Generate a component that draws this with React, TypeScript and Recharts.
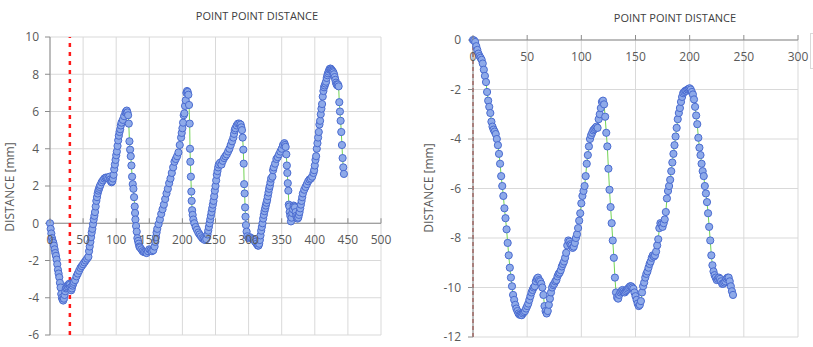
import React from "react";
import { ScatterChart, Scatter, XAxis, YAxis, CartesianGrid, ReferenceLine } from "recharts";

// ---------- DATA ----------
const TITLE = "POINT POINT DISTANCE";
const Y_LABEL = "DISTANCE [mm]";

const leftXTicks = [0, 50, 100, 150, 200, 250, 300, 350, 400, 450, 500];
const leftYTicks = [-6, -4, -2, 0, 2, 4, 6, 8, 10];
const rightXTicks = [0, 50, 100, 150, 200, 250, 300];
const rightYTicks = [-12, -10, -8, -6, -4, -2, 0];

const leftMarkerX = 30;
const rightMarkerX = 0;

// left series: [x, distance]
const leftPoints: [number, number][] = [
  [0,0],[1,-0.3],[2,-0.55],[3,-0.8],[4,-0.95],[5,-1.05],[6,-1.2],[7,-1.4],[8,-1.6],[9,-1.75],[10,-1.95],
  [11,-2.2],[12,-2.5],[13,-2.7],[14,-2.9],[15,-3.2],[16,-3.45],[17,-3.8],[18,-4.0],[19,-4.1],[20,-4.15],
  [21,-4.05],[22,-3.85],[23,-3.65],[24,-3.5],[25,-3.45],[26,-3.35],[27,-3.4],[28,-3.3],[29,-3.25],[30,-3.3],
  [31,-3.45],[32,-3.6],[33,-3.5],[34,-3.35],[35,-3.25],[36,-3.15],[38,-3.05],[40,-2.85],[42,-2.7],[44,-2.55],
  [46,-2.4],[48,-2.3],[50,-2.2],[52,-2.1],[54,-2.0],[56,-1.9],[58,-1.8],[59,-1.5],[60,-1.25],[61,-1.0],
  [62,-0.75],[63,-0.5],[64,-0.3],[65,-0.05],[66,0.2],[67,0.4],[68,0.6],[69,0.9],[70,1.2],[71,1.4],
  [72,1.6],[73,1.75],[74,1.85],[75,1.95],[76,2.05],[78,2.2],[80,2.3],[82,2.4],[84,2.45],[86,2.45],
  [88,2.4],[90,2.5],[91,2.35],[92,2.25],[93,2.2],[94,2.25],[95,2.4],[96,2.6],[97,2.9],[98,3.15],
  [99,3.4],[100,3.65],[101,3.85],[102,4.15],[103,4.45],[104,4.7],[105,4.9],[106,5.05],[107,5.25],[108,5.4],
  [110,5.55],[112,5.75],[114,5.95],[115,6.0],[116,6.05],[117,5.95],[118,5.8],[119,5.35],[120,4.4],[121,3.95],
  [122,3.6],[123,3.1],[124,2.5],[125,2.1],[126,1.85],[127,1.4],[128,0.9],[128.5,0.55],[129,0.2],[130,-0.15],
  [131,-0.45],[132,-0.8],[133,-0.95],[134,-1.1],[135,-1.25],[136,-1.3],[138,-1.4],[140,-1.5],[142,-1.55],[144,-1.55],
  [146,-1.6],[148,-1.5],[150,-1.4],[152,-1.45],[154,-1.5],[156,-1.45],[158,-1.25],[159,-1.0],[160,-0.75],[161,-0.5],
  [162,-0.3],[164,-0.05],[166,0.2],[168,0.5],[170,0.75],[172,1.0],[174,1.3],[176,1.6],[178,1.85],[180,2.15],
  [182,2.4],[184,2.7],[186,3.0],[188,3.3],[190,3.45],[192,3.6],[194,3.8],[196,4.2],[198,4.6],[199,4.85],
  [200,5.1],[201,5.4],[202,5.8],[203,5.9],[204,6.3],[205,6.6],[206,7.0],[207,7.1],[208,7.05],[209,6.9],
  [210,6.35],[211,5.35],[211.5,4.0],[212,3.3],[212.8,2.5],[213.5,1.7],[214,1.2],[214.7,0.7],[215.5,0.45],[216.5,0.2],
  [218,0],[220,-0.2],[222,-0.35],[224,-0.5],[226,-0.6],[228,-0.7],[230,-0.8],[232,-0.85],[234,-0.9],[236,-0.85],
  [238,-0.6],[239,-0.4],[240,-0.2],[241,0],[242,0.2],[243,0.4],[244,0.6],[245,0.8],[246,1.0],[247,1.2],
  [248,1.45],[249,1.75],[250,2.0],[251,2.3],[252,2.6],[253,2.8],[254,3.0],[255,3.15],[257,3.25],[259,3.15],
  [261,3.35],[263,3.5],[265,3.6],[267,3.7],[269,3.85],[271,4.0],[273,4.2],[275,4.4],[277,4.6],[278,4.8],
  [279,5.0],[280,5.1],[282,5.25],[284,5.35],[286,5.35],[288,5.3],[289,5.15],[290,5.0],[291,4.6],[292,3.95],
  [292.6,3.2],[293.3,2.1],[294,1.6],[294.7,0.85],[295.3,0.35],[296,-0.1],[297,-0.45],[298,-0.7],[300,-0.8],[302,-0.75],
  [304,-0.8],[306,-0.85],[308,-0.9],[310,-1.0],[312,-1.1],[314,-1.2],[315,-1.2],[316,-1.1],[317,-0.9],[318,-0.65],
  [319,-0.4],[320,-0.2],[321,0.0],[322,0.25],[323,0.45],[324,0.65],[325,0.8],[326,0.95],[327,1.1],[328,1.25],
  [329,1.45],[330,1.65],[331,1.85],[332,2.0],[333,2.2],[334,2.4],[336,2.5],[337,2.85],[338,3.0],[340,3.2],
  [342,3.45],[344,3.55],[346,3.7],[348,3.85],[350,4.0],[352,4.2],[354,4.3],[355,4.2],[356,4.1],[357,3.7],
  [357.8,3.1],[358.5,2.7],[359.2,2.15],[360,1.75],[360.7,1.0],[361.5,0.9],[362,0.6],[363,0.4],[364,0.1],[365,0.3],
  [366,0.55],[367,0.75],[368,0.95],[369,0.9],[370,0.85],[371,0.6],[372,0.4],[373,0.3],[374,0.25],[375,0.3],
  [376,0.45],[377,0.6],[378,0.8],[379,1.0],[380,1.2],[381,1.4],[382,1.6],[384,1.8],[386,1.95],[388,2.1],
  [390,2.25],[392,2.35],[394,2.4],[396,2.5],[398,2.7],[399,2.85],[400,3.1],[401,3.4],[402,3.6],[403,4.0],
  [404,4.3],[405,4.6],[406,4.9],[407,5.3],[408,5.5],[409,5.85],[410,6.15],[411,6.4],[412,6.8],[413,7.1],
  [414,7.3],[415,7.4],[416,7.5],[417,7.6],[418,7.8],[419,7.95],[420,8.05],[421,8.15],[422,8.25],[423,8.3],
  [424,8.3],[425,8.25],[426,8.2],[427,8.15],[428,8.1],[429,8.0],[430,7.85],[431,7.7],[432,7.55],[433,7.45],
  [434,7.4],[435,7.45],[436,7.35],[437,6.5],[438,6.0],[439,5.5],[440,4.9],[441,4.2],[442,3.5],[443,3.0],[444,2.65],
];

// right series: distance at x = 0, 1, 2, ...
const rightValues: number[] = [
  0,-0.02,-0.08,-0.25,-0.4,-0.55,-0.65,-0.72,-0.8,-0.95,
  -1.2,-1.45,-1.7,-2.1,-2.45,-2.7,-2.95,-3.3,-3.5,-3.62,
  -3.7,-3.8,-4.0,-4.25,-4.6,-5.0,-5.5,-5.9,-6.3,-6.8,
  -7.2,-7.65,-8.2,-8.7,-9.2,-9.6,-9.95,-10.3,-10.5,-10.7,
  -10.85,-10.95,-11.05,-11.1,-11.1,-11.12,-11.05,-11.0,-10.95,-10.85,
  -10.75,-10.65,-10.5,-10.35,-10.2,-10.1,-10.0,-9.95,-9.75,-9.65,
  -9.6,-9.7,-9.75,-9.85,-10.0,-10.3,-10.75,-10.95,-11.05,-10.95,
  -10.7,-10.45,-10.2,-10.0,-9.9,-9.85,-9.75,-9.7,-9.55,-9.45,
  -9.4,-9.3,-9.15,-9.05,-8.95,-8.8,-8.6,-8.3,-8.1,-8.15,
  -8.25,-8.3,-8.4,-8.35,-8.2,-8.0,-7.85,-7.6,-7.3,-7.0,
  -6.6,-6.3,-6.1,-5.9,-5.5,-5.0,-4.65,-4.3,-4.0,-3.85,
  -3.75,-3.65,-3.6,-3.55,-3.5,-3.55,-3.2,-3.0,-2.75,-2.5,
  -2.45,-2.6,-3.1,-3.75,-4.3,-5.2,-6.05,-6.75,-7.4,-8.1,
  -8.8,-9.6,-10.2,-10.4,-10.45,-10.3,-10.2,-10.15,-10.1,-10.15,
  -10.2,-10.15,-10.1,-10.05,-10.0,-9.95,-9.95,-10.0,-10.05,-10.2,
  -10.35,-10.5,-10.65,-10.75,-10.7,-10.55,-10.2,-9.95,-9.8,-9.6,
  -9.45,-9.35,-9.2,-9.05,-8.95,-8.8,-8.7,-8.75,-8.7,-8.55,
  -8.3,-8.05,-7.6,-7.4,-7.45,-7.55,-7.4,-7.25,-6.95,-6.4,
  -6.1,-5.9,-5.65,-5.3,-4.95,-4.6,-4.25,-3.9,-3.55,-3.2,
  -2.95,-2.75,-2.5,-2.3,-2.15,-2.1,-2.05,-2.05,-2.0,-1.98,
  -1.95,-2.0,-2.1,-2.2,-2.4,-2.7,-3.05,-3.4,-3.95,-4.35,
  -4.65,-5.0,-5.3,-5.5,-5.9,-6.2,-6.55,-7.0,-7.55,-8.1,
  -8.7,-9.1,-9.35,-9.5,-9.6,-9.7,-9.65,-9.6,-9.65,-9.75,
  -9.85,-9.85,-9.8,-9.75,-9.65,-9.6,-9.6,-9.75,-9.95,-10.15,
  -10.3,
];

// ---------- STYLE ----------
const FONT = "'Open Sans', 'Noto Sans', sans-serif";
const TEXT = "#595959";
const GRID = "#d9d9d9";
const AXIS = "#8c8c8c";
const FILL = "#8eaae9";
const STROKE = "#4a6bd0";
const LINE = "#72d455";

const leftData = leftPoints.map(([x, y]) => ({ x, y }));
const rightData = rightValues.map((y, i) => ({ x: i, y }));

const Dot = (props: any) => {
  const { cx, cy } = props;
  if (cx == null || cy == null) return null;
  return <circle cx={cx} cy={cy} r={3.6} fill={FILL} stroke={STROKE} strokeWidth={1} />;
};

// x tick drawn at the y=0 axis line
const makeXTick = (zeroY: number) => (props: any) => {
  const { x, payload } = props;
  return (
    <g>
      <line x1={x} x2={x} y1={zeroY - 5} y2={zeroY} stroke={AXIS} strokeWidth={1} />
      <text x={x} y={zeroY + 18} textAnchor="middle" dominantBaseline="middle" fill={TEXT} fontSize={12} fontFamily={FONT}>
        {payload.value}
      </text>
    </g>
  );
};

// Left plot: left 50, top 37, width 331, height 298
const L_TOP = 37, L_H = 298;
const leftZeroY = L_TOP + L_H * (10 / 16);
// Right plot: left 473, top 40, width 325, height 297
const R_TOP = 40;

const textStyle: React.CSSProperties = { position: "absolute", color: "#404040", fontFamily: FONT, whiteSpace: "nowrap" };

export default function App() {
  return (
    <div style={{ position: "absolute", left: 0, top: 0, width: 813, height: 347, background: "#fff", overflow: "hidden", fontFamily: FONT }}>
      {/* LEFT CHART */}
      <div style={{ position: "absolute", left: 0, top: 0 }}>
        <ScatterChart width={400} height={347} margin={{ top: L_TOP, right: 19, bottom: 11, left: 10 }}>
          <CartesianGrid stroke={GRID} strokeWidth={1} />
          <XAxis type="number" dataKey="x" domain={[0, 500]} ticks={leftXTicks} height={1}
            axisLine={false} tickLine={false} tick={makeXTick(leftZeroY)} interval={0} />
          <YAxis type="number" dataKey="y" domain={[-6, 10]} ticks={leftYTicks} width={40} interval={0}
            axisLine={{ stroke: AXIS }} tickLine={{ stroke: AXIS }} tickSize={5} tickMargin={6}
            tick={{ fill: TEXT, fontSize: 12, fontFamily: FONT }} />
          <ReferenceLine y={0} stroke={AXIS} strokeWidth={1} />
          <Scatter data={leftData} isAnimationActive={false} line={{ stroke: LINE, strokeWidth: 1 }} lineType="joint" shape={Dot} />
          <ReferenceLine x={leftMarkerX} stroke="#ff1a1a" strokeWidth={2.5} strokeDasharray="4 5" />
        </ScatterChart>
      </div>
      <div style={{ ...textStyle, left: 257, top: 15, transform: "translate(-50%,-50%)", fontSize: 11 }}>{TITLE}</div>
      <div style={{ ...textStyle, left: 9, top: 187, transform: "translate(-50%,-50%) rotate(-90deg)", fontSize: 12, color: TEXT }}>{Y_LABEL}</div>

      {/* RIGHT CHART */}
      <div style={{ position: "absolute", left: 410, top: 0 }}>
        <ScatterChart width={403} height={347} margin={{ top: R_TOP, right: 15, bottom: 9, left: 23 }}>
          <CartesianGrid stroke={GRID} strokeWidth={1} />
          <XAxis type="number" dataKey="x" domain={[0, 300]} ticks={rightXTicks} height={1}
            axisLine={false} tickLine={false} tick={makeXTick(R_TOP)} interval={0} />
          <YAxis type="number" dataKey="y" domain={[-12, 0]} ticks={rightYTicks} width={40} interval={0}
            axisLine={{ stroke: AXIS }} tickLine={{ stroke: AXIS }} tickSize={5} tickMargin={7}
            tick={{ fill: TEXT, fontSize: 12, fontFamily: FONT }} />
          <ReferenceLine y={0} stroke={AXIS} strokeWidth={1} />
          <ReferenceLine x={rightMarkerX} stroke="#b5473f" strokeWidth={1.5} strokeDasharray="4 3" />
          <Scatter data={rightData} isAnimationActive={false} line={{ stroke: LINE, strokeWidth: 1 }} lineType="joint" shape={Dot} />
        </ScatterChart>
      </div>
      <div style={{ ...textStyle, left: 675, top: 17, transform: "translate(-50%,-50%)", fontSize: 11 }}>{TITLE}</div>
      <div style={{ ...textStyle, left: 428, top: 188, transform: "translate(-50%,-50%) rotate(-90deg)", fontSize: 12, color: TEXT }}>{Y_LABEL}</div>
      <div style={{ position: "absolute", left: 810, top: 33, width: 20, height: 34, border: "1px solid #d9d9d9" }} />
    </div>
  );
}
